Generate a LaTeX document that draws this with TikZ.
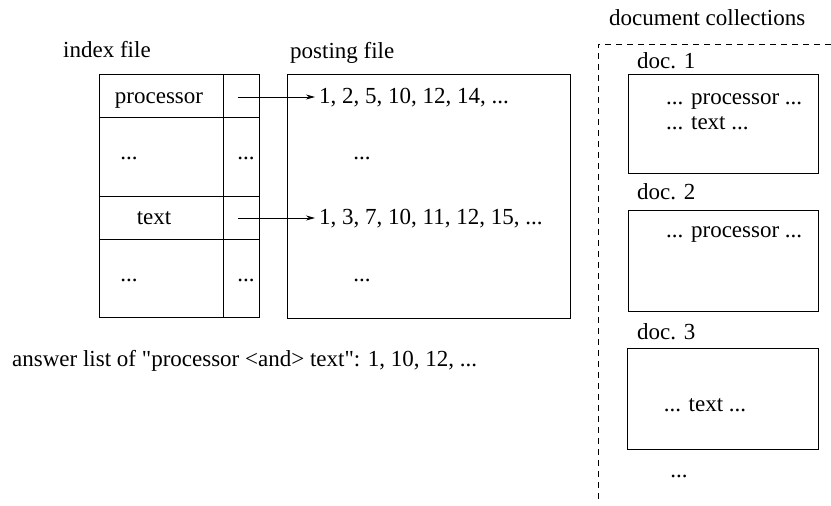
\documentclass[tikz,border=0pt]{standalone}
\usepackage{fontspec}
\setmainfont{Liberation Serif}
\usetikzlibrary{arrows.meta}
\begin{document}
\begin{tikzpicture}[x=1pt,y=-1pt,
  txt/.style={inner sep=0pt,font=\fontsize{23}{27}\selectfont},
  lbl/.style={txt,anchor=base west},
  ctr/.style={txt,anchor=base},
  box/.style={draw,line width=0.9pt},
  arr/.style={line width=0.8pt,shorten >=4pt,-{Stealth[length=9pt,width=5pt]}},
  dashbox/.style={line width=0.7pt,dash pattern=on 6pt off 5pt}]
\useasboundingbox (0,0) rectangle (831,506);
% index file
\node[lbl] (idxlbl) at (63,57) {index file};
\node[box,minimum width=160pt,minimum height=243pt,anchor=north west,inner sep=0pt] (idx) at (99,74) {};
\draw[line width=0.8pt] (223,74) -- (223,317);
\draw[line width=0.8pt] (99,117) -- (259,117);
\draw[line width=0.8pt] (99,196) -- (259,196);
\draw[line width=0.8pt] (99,239) -- (259,239);
\node[ctr] (kproc) at (159,103) {processor};
\node[ctr] (kd1) at (129,159) {...};
\node[ctr] (pd1) at (246,159) {...};
\node[ctr] (ktext) at (154,224) {text};
\node[ctr] (kd2) at (129,281) {...};
\node[ctr] (pd2) at (246,281) {...};
\coordinate (p1) at (238,97);
\coordinate (p2) at (238,218);
% posting file
\node[lbl] (postlbl) at (290,58) {posting file};
\node[box,minimum width=283pt,minimum height=244pt,anchor=north west,inner sep=0pt] (post) at (287,74) {};
\node[lbl] (l1) at (319,103) {1, 2, 5, 10, 12, 14, ...};
\node[ctr] (ld1) at (362,159) {...};
\node[lbl] (l2) at (319,224) {1, 3, 7, 10, 11, 12, 15, ...};
\node[ctr] (ld2) at (362,281) {...};
\draw[arr] (p1) -- (l1.west |- p1);
\draw[arr] (p2) -- (l2.west |- p2);
% answer
\node[lbl] (ans) at (12,366) {answer list of \textquotedbl processor <and> text\textquotedbl: 1, 10, 12, ...};
% document collections
\node[lbl] (dclbl) at (609,25) {document collections};
\coordinate (dtl) at (598,44);
\coordinate (dtr) at (831,44);
\coordinate (dbl) at (598,503);
\draw[dashbox] (dtr) -- (dtl) -- (dbl);
\node[lbl] (d1lbl) at (637,68) {doc. 1};
\node[box,minimum width=190pt,minimum height=99pt,anchor=north west,inner sep=0pt] (d1) at (628,74) {};
\node[lbl] (d1a) at (666,104) {... processor ...};
\node[lbl] (d1b) at (666,129) {... text ...};
\node[lbl] (d2lbl) at (637,199) {doc. 2};
\node[box,minimum width=190pt,minimum height=101pt,anchor=north west,inner sep=0pt] (d2) at (628,210) {};
\node[lbl] (d2a) at (666,237) {... processor ...};
\node[lbl] (d3lbl) at (637,339) {doc. 3};
\node[box,minimum width=191pt,minimum height=101pt,anchor=north west,inner sep=0pt] (d3) at (627,348) {};
\node[ctr] (d3a) at (705,411) {... text ...};
\node[ctr] (dmore) at (679,477) {...};
\end{tikzpicture}
\end{document}
